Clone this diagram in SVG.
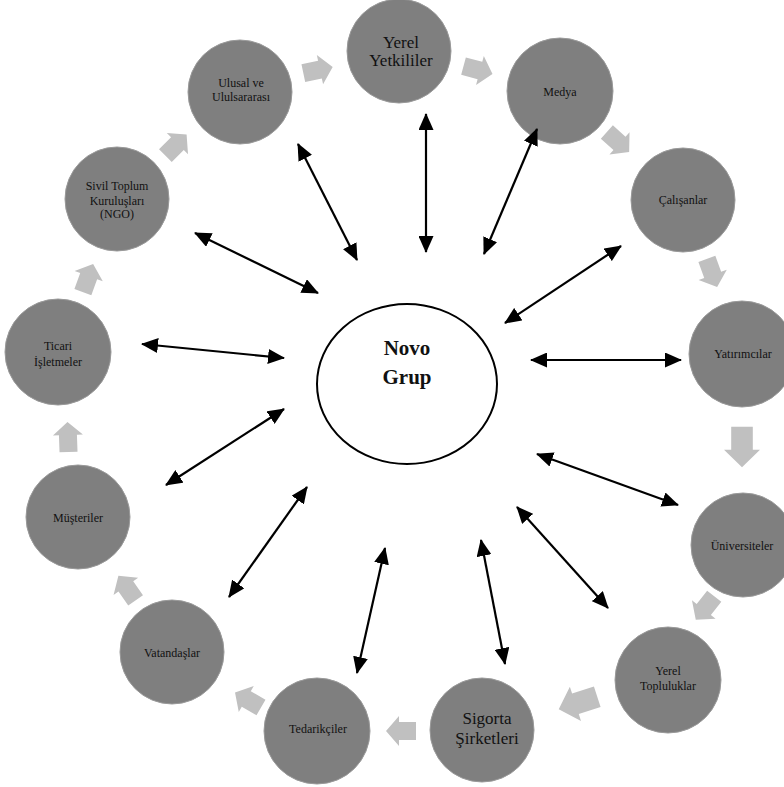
<svg xmlns="http://www.w3.org/2000/svg" width="784" height="787" viewBox="0 0 784 787">
<style>
.node circle{fill:#7f7f7f;stroke:#9a9a9a;stroke-width:1}
.node text{font-family:"Liberation Serif","Times New Roman",serif;font-size:12px;fill:#111;text-anchor:middle}
.node text.big{font-size:17px}
.flow use{fill:#c0c0c0}
.links line{stroke:#000;stroke-width:2.2;marker-start:url(#ah);marker-end:url(#ah)}
</style>
<defs>
<marker id="ah" markerUnits="userSpaceOnUse" markerWidth="17" markerHeight="15" refX="16" refY="7.5" orient="auto-start-reverse" viewBox="0 0 17 15">
<path d="M0,0 L17,7.5 L0,15 z" fill="#000"/>
</marker>
<polygon id="blk" points="-15,-9 2,-9 2,-15 15,0 2,15 2,9 -15,9"/>
</defs>
<rect width="784" height="787" fill="#fff"/>

<g id="center">
<ellipse cx="407" cy="384" rx="90" ry="80" fill="#fff" stroke="#000" stroke-width="2"/>
<text x="407" y="355" font-family="'Liberation Serif','Times New Roman',serif" font-size="21" font-weight="bold" text-anchor="middle" fill="#111">Novo</text>
<text x="407" y="384" font-family="'Liberation Serif','Times New Roman',serif" font-size="21" font-weight="bold" text-anchor="middle" fill="#111">Grup</text>
</g>

<g id="n-yerel-yetkililer" class="node"><circle cx="399" cy="51" r="52"/><text class="big" x="401" y="48">Yerel</text><text class="big" x="401" y="66">Yetkililer</text></g>
<g id="n-medya" class="node"><circle cx="560" cy="91" r="53"/><text x="560" y="96">Medya</text></g>
<g id="n-calisanlar" class="node"><circle cx="683" cy="200" r="52"/><text x="683" y="204">Çalışanlar</text></g>
<g id="n-yatirimcilar" class="node"><circle cx="742" cy="354" r="53"/><text x="743" y="358">Yatırımcılar</text></g>
<g id="n-universiteler" class="node"><circle cx="743" cy="545" r="52"/><text x="742" y="550">Üniversiteler</text></g>
<g id="n-yerel-topluluklar" class="node"><circle cx="668" cy="680" r="53"/><text x="668" y="675">Yerel</text><text x="668" y="690">Topluluklar</text></g>
<g id="n-sigorta" class="node"><circle cx="482" cy="730" r="52"/><text class="big" x="487" y="724">Sigorta</text><text class="big" x="487" y="744">Şirketleri</text></g>
<g id="n-tedarikciler" class="node"><circle cx="317" cy="731" r="53"/><text x="318" y="733">Tedarikçiler</text></g>
<g id="n-vatandaslar" class="node"><circle cx="172" cy="652" r="52"/><text x="172" y="657">Vatandaşlar</text></g>
<g id="n-musteriler" class="node"><circle cx="78" cy="517" r="52"/><text x="78" y="522">Müşteriler</text></g>
<g id="n-ticari" class="node"><circle cx="58" cy="352" r="53"/><text x="58" y="350">Ticari</text><text x="58" y="366">İşletmeler</text></g>
<g id="n-sivil" class="node"><circle cx="117" cy="199" r="52"/><text x="117" y="190">Sivil Toplum</text><text x="117" y="205">Kuruluşları</text><text x="117" y="218">(NGO)</text></g>
<g id="n-ulusal" class="node"><circle cx="240" cy="92" r="52"/><text x="241" y="87">Ulusal ve</text><text x="241" y="101">Ululsararası</text></g>

<g id="flow" class="flow">
<use href="#blk" transform="translate(318,70) rotate(-12)"/>
<use href="#blk" transform="translate(478,70) rotate(15)"/>
<use href="#blk" transform="translate(618,142) rotate(42)"/>
<use href="#blk" transform="translate(712,273) rotate(70)"/>
<use href="#blk" transform="translate(742,447) rotate(90) scale(1.35,1.2)"/>
<use href="#blk" transform="translate(705,608) rotate(128)"/>
<use href="#blk" transform="translate(578,703) rotate(162) scale(1.35,1.2)"/>
<use href="#blk" transform="translate(401,731) rotate(180)"/>
<use href="#blk" transform="translate(248,700) rotate(210)"/>
<use href="#blk" transform="translate(127,588) rotate(235)"/>
<use href="#blk" transform="translate(68,437) rotate(268)"/>
<use href="#blk" transform="translate(88,278) rotate(290)"/>
<use href="#blk" transform="translate(176,145) rotate(315)"/>
</g>

<g id="links" class="links">
<line x1="426" y1="252" x2="426" y2="114"/>
<line x1="484" y1="254" x2="537" y2="129"/>
<line x1="505" y1="323" x2="621" y2="246"/>
<line x1="531" y1="360" x2="681" y2="360"/>
<line x1="537" y1="454" x2="678" y2="505"/>
<line x1="517" y1="507" x2="608" y2="608"/>
<line x1="481" y1="540" x2="505" y2="664"/>
<line x1="385" y1="548" x2="357" y2="673"/>
<line x1="307" y1="487" x2="229" y2="597"/>
<line x1="284" y1="409" x2="166" y2="485"/>
<line x1="284" y1="358" x2="142" y2="344"/>
<line x1="318" y1="293" x2="195" y2="233"/>
<line x1="357" y1="260" x2="298" y2="144"/>
</g>
</svg>
